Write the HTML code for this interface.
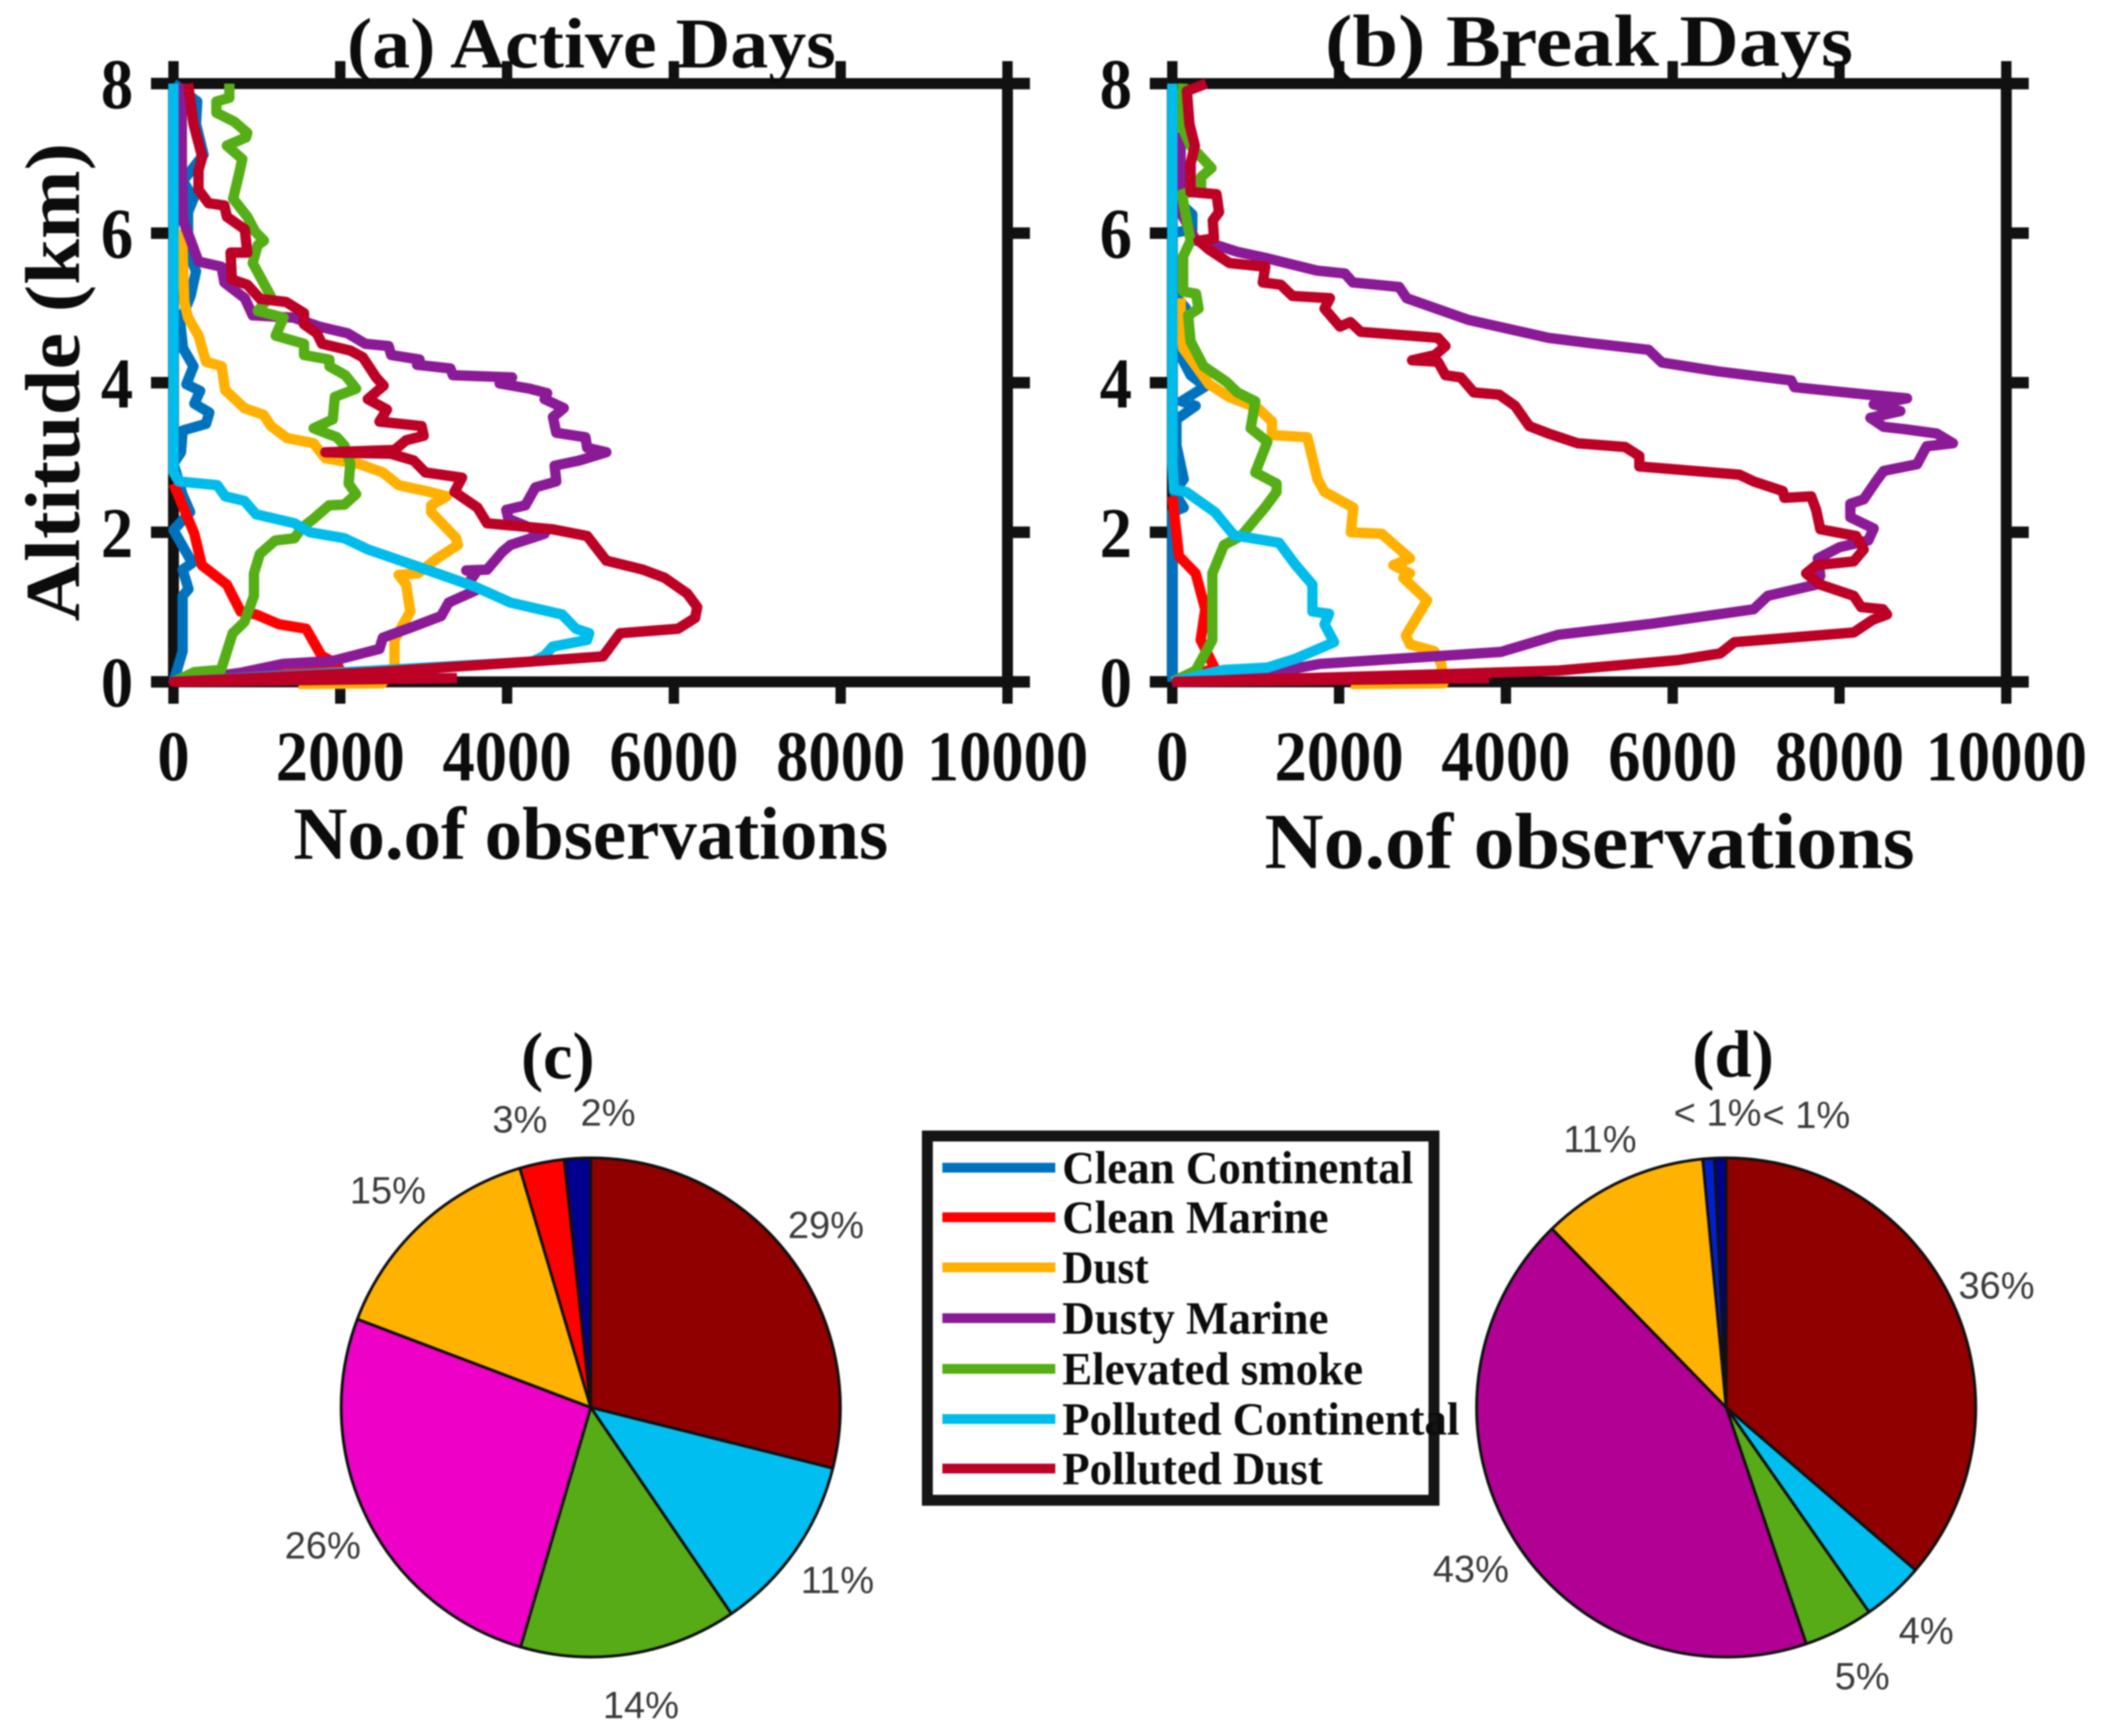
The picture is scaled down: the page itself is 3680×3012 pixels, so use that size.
<!DOCTYPE html>
<html lang="en">
<head>
<meta charset="utf-8">
<title>Aerosol subtype observations on active and break days</title>
<style>
html,body{margin:0;padding:0;background:#fff;width:3680px;height:3012px;overflow:hidden}
svg{display:block;filter:blur(1.4px)}
text{font-family:"Liberation Serif",serif;font-weight:bold;fill:#0c0c0c}
.pct{font-family:"Liberation Sans",sans-serif;font-weight:normal;font-size:66px;fill:#3a3a3a;text-anchor:middle}
</style>
</head>
<body>
<svg id="figure" xmlns="http://www.w3.org/2000/svg" width="3680" height="3012" viewBox="0 0 3680 3012">
  <rect width="3680" height="3012" fill="#fff"/>
  <g id="panel-a"></g>
  <g id="panel-b"></g>
  <text x="602" y="117" font-size="124" textLength="848" lengthAdjust="spacingAndGlyphs">(a) Active Days</text>
  <text x="2299" y="114" font-size="128" textLength="916" lengthAdjust="spacingAndGlyphs">(b) Break Days</text>
  <text x="509" y="1490" font-size="130" textLength="1032" lengthAdjust="spacingAndGlyphs">No.of observations</text>
  <text x="2194" y="1506" font-size="138" textLength="1128" lengthAdjust="spacingAndGlyphs">No.of observations</text>
  <text transform="translate(137 1078) rotate(-90)" font-size="135" textLength="830" lengthAdjust="spacingAndGlyphs">Altitude (km)</text>
  <g id="pie-c"></g>
  <g id="pie-d"></g>
  <text x="904" y="1871" font-size="115">(c)</text>
  <text x="2936" y="1868" font-size="116">(d)</text>
  <g id="legend">
    <rect x="1609" y="1971" width="879" height="632" fill="#fff" stroke="#151515" stroke-width="19"/>
  </g>
</svg>
<script>
const xTicks = [0, 2000, 4000, 6000, 8000, 10000];
const yTicks = [0, 2, 4, 6, 8];

const activeCleanContinentalAlt = [0,.41,1.15,1.24,1.5,1.59,2.03,2.27,2.5,2.92,3.07,3.36,3.45,3.6,3.72,3.89,3.98,4.22,4.46,4.81,5.16,5.49,5.75,6.28,6.46,6.7,7.05,7.46,7.76,7.9,8];
const activeCleanContinentalObs = [0,110,110,180,110,225,0,200,110,0,90,110,390,430,250,320,155,240,115,80,205,270,175,175,240,115,360,270,285,115,0];
const activeCleanMarineAlt = [0,.15,.24,.35,.71,.77,.90,.94,1.30,1.56,1.98,2.65];
const activeCleanMarineObs = [0,2000,1960,1775,1590,1265,990,805,640,340,250,0];
const activeDustAlt = [-.03,-.02,.18,.56,.94,1.30,1.43,1.45,1.65,1.83,1.92,2.27,2.36,2.48,2.54,2.63,2.80,2.91,2.99,3.19,3.26,3.42,3.57,3.66,3.83,3.90,4.22,4.28,4.63,4.87,5.08,6.05];
const activeDustObs = [1500,2500,2650,2650,2840,2790,2700,2930,3160,3410,3390,3090,3090,3275,3070,2700,2510,2235,1820,1680,1360,1170,1080,850,690,620,577,390,300,175,130,100];
const activeDustyMarineAlt = [0,.12,.24,.28,.44,.59,.74,.88,1.06,1.22,1.31,1.45,1.49,1.50,1.74,1.83,1.98,2.18,2.30,2.36,2.60,2.68,2.89,2.96,3.07,3.13,3.27,3.33,3.54,3.66,3.78,3.86,3.92,3.99,4.07,4.10,4.19,4.24,4.31,4.37,4.49,4.52,4.66,4.75,4.87,4.90,5.13,5.34,5.55,5.62,5.90,6.17,6.87,7.46,8];
const activeDustyMarineObs = [0,800,1310,1910,2470,2510,2880,3210,3300,3620,3530,3620,3510,3760,3945,4040,4450,4015,3990,4220,4340,4590,4570,4870,5190,4960,4940,4590,4550,4680,4450,4480,4270,3910,4060,3350,3320,2920,2950,2610,2580,2300,2090,1750,1440,950,855,610,577,300,207,115,100,100,100];
const activeSmokeAlt = [0,.13,.16,.65,.80,1.15,1.45,1.71,1.89,1.92,2.06,2.18,2.36,2.37,2.51,2.65,2.92,3.16,3.27,3.39,3.51,3.81,3.92,4.10,4.22,4.31,4.37,4.52,4.63,4.87,4.96,5.16,5.60,5.84,5.90,6.02,6.22,6.46,6.81,6.99,7.17,7.28,7.34,7.49,7.61,7.76,7.81,8];
const activeSmokeObs = [0,250,570,710,850,965,965,1035,1220,1450,1540,1680,1865,2050,2190,2100,2120,2050,1960,1680,1910,1935,2190,2060,1870,1870,1565,1565,1225,1320,1010,1165,950,1010,1085,980,885,715,790,825,640,870,885,730,515,515,670,670];
const activePollutedContinentalAlt = [0,.27,.35,.47,.56,.65,.71,.90,1.06,1.27,1.56,1.77,1.92,2.0,2.12,2.24,2.42,2.48,2.63,2.68,2.8,8];
const activePollutedContinentalObs = [0,4300,4450,4545,4960,4985,4825,4660,4040,3620,2880,2330,2050,1635,1450,990,850,620,525,65,0,0];
const activePollutedDustAlt = [.05,0,.13,.27,.34,.65,.71,.855,1.0,1.18,1.39,1.50,1.62,1.95,2.04,2.12,2.33,2.54,2.73,2.80,2.96,3.05,3.07,3.10,3.23,3.29,3.42,3.48,3.64,3.78,3.96,4.07,4.34,4.43,4.52,4.66,4.78,4.93,5.08,5.12,5.31,5.38,5.74,5.74,6.05,6.22,6.37,6.40,6.58,6.84,7.02,7.46,8];
const activePollutedDustObs = [3400,0,2420,4270,5150,5355,6050,6255,6280,6160,5890,5630,5190,4960,4545,3760,3645,3370,3460,3020,2880,2605,1820,2650,2790,3000,2975,2470,2560,2330,2520,2430,2270,2120,1780,1720,1565,1565,1350,1040,885,700,685,885,855,640,610,420,300,300,345,240,175];

const breakCleanContinentalAlt = [0,2.27,2.33,2.54,2.71,3.16,3.51,3.69,3.75,3.95,4.10,4.40,5.0,5.2,6.0,6.05,6.25,6.5,8];
const breakCleanContinentalObs = [0,0,137,20,137,50,50,280,110,395,220,80,160,0,0,240,240,0,0];
const breakCleanMarineAlt = [0,.18,.56,.97,1.45,1.68,2.48];
const breakCleanMarineObs = [0,510,340,395,280,80,0];
const breakDustAlt = [-.03,-.02,.24,.41,.5,.62,1.09,1.39,1.45,1.56,1.65,1.98,2.0,2.33,2.54,2.71,3.27,3.30,3.48,3.66,3.81,3.98,4.46,4.81,5.13];
const breakDustObs = [2140,3250,3225,3140,2850,2800,3055,2770,2850,2650,2850,2510,2140,2170,1825,1740,1620,1195,1195,1025,680,440,130,100,100];
const breakDustyMarineAlt = [0,.12,.24,.40,.63,.78,.97,1.15,1.30,1.42,1.65,1.80,1.89,2.05,2.2,2.38,2.44,2.70,2.82,2.91,3.15,3.19,3.32,3.38,3.41,3.53,3.62,3.71,3.79,3.85,3.94,4.03,4.15,4.27,4.44,4.53,4.60,4.84,5.13,5.28,5.34,5.46,5.50,5.66,5.75,5.84,5.90,6.28,7.35];
const breakDustyMarineObs = [0,1195,1770,3940,4630,5770,6970,7140,7720,7770,7740,8000,8345,8410,8130,8130,8290,8450,8530,8930,9045,9360,9165,8770,8530,8370,8730,8410,8810,8250,7460,7420,6550,5870,5710,5000,4510,3550,2810,2720,2165,2070,1730,1150,780,530,285,100,100];
const breakSmokeAlt = [0,.15,.56,1.09,1.45,1.83,1.95,2.33,2.54,2.65,2.80,3.21,3.39,3.75,3.87,4.01,4.22,4.55,4.90,4.99,5.19,5.22,5.69,5.90,6.52,6.58,6.75,6.87,7.02,7.17,7.46,8];
const breakSmokeObs = [0,280,480,480,480,620,825,1110,1250,1250,995,1140,940,995,780,650,375,220,190,315,285,130,130,220,115,345,345,470,345,220,100,130];
const breakPollutedContinentalAlt = [0,.16,.19,.31,.53,.77,.91,.94,1.30,1.56,1.86,1.96,2.27,2.54,2.57,2.92,8];
const breakPollutedContinentalObs = [0,620,1140,1480,1940,1825,1880,1680,1680,1480,1280,740,510,165,20,0,0];
const breakPollutedDustAlt = [.05,0,.10,.15,.29,.38,.53,.66,.83,.90,.97,1.0,1.15,1.30,1.45,1.56,1.61,1.77,1.95,2.04,2.30,2.48,2.46,2.55,2.68,2.77,2.88,3.02,3.14,3.19,3.32,3.42,3.69,3.84,3.87,4.07,4.10,4.28,4.30,4.37,4.49,4.60,4.68,4.81,4.75,4.99,5.13,5.16,5.31,5.34,5.55,5.60,5.78,5.90,5.93,6.17,6.28,6.52,6.55,6.93,7.17,7.46,7.9,8];
const breakPollutedDustObs = [3800,50,3200,4630,6060,6570,6740,8170,8400,8570,8520,8260,8170,7770,7600,7720,8170,8290,8200,7770,7720,7660,7340,7320,6970,6800,5600,5600,5430,4860,4510,4280,4110,3920,3615,3460,3275,3185,2875,3150,3275,3185,2260,2135,2010,1825,1890,1440,1300,1085,1115,685,440,315,500,485,560,530,220,220,270,205,175,407];

const seriesNames = ["Clean Continental","Clean Marine","Dust","Dusty Marine","Elevated smoke","Polluted Continental","Polluted Dust"];
const seriesColors = ["#0072BD","#FF0000","#FFB000","#8B1A96","#55AE15","#00BCEB","#BC0026"];

const pieCValues = [29,11.6,14.1,26.3,14.7,2.9,1.7];
const pieCColors = ["#900000","#00BFF0","#56AB16","#EE00C6","#FFB300","#FF0000","#00008F"];
const pieCLabels = ["29%","11%","14%","26%","15%","3%","2%"];
const pieDValues = [36.3,4,4.5,42.9,10.8,.75,.75];
const pieDColors = ["#900000","#00BFF0","#56AB16","#B20094","#FFB300","#0020D0","#00008F"];
const pieDLabels = ["36%","4%","5%","43%","11%","< 1%","< 1%"];

const SVG_NS = "http://www.w3.org/2000/svg";
function make(tag, parent, attrs) {
  const el = document.createElementNS(SVG_NS, tag);
  for (const k in attrs) el.setAttribute(k, attrs[k]);
  parent.appendChild(el);
  return el;
}
function xAxisFn(x0) { return v => x0 + v * 0.1447; }
function yAxisFn() { return a => 1183 - a * 129.75; }

function drawPanel(parentId, prefix, x0, series) {
  const g = document.getElementById(parentId);
  const X = xAxisFn(x0), Y = yAxisFn();
  const frame = make("rect", g, {x:X(0), y:Y(8), width:X(10000)-X(0), height:Y(0)-Y(8), fill:"none", stroke:"#111", "stroke-width":19});
  
  
  xTicks.forEach(t => {
    const b = make("line", g, {x1:X(t), x2:X(t), y1:Y(0), y2:Y(0)+38, stroke:"#111", "stroke-width":18});
    
    
    const tp = make("line", g, {x1:X(t), x2:X(t), y1:Y(8), y2:Y(8)-39, stroke:"#111", "stroke-width":18});
    
    
    const lb = make("text", g, {x:X(t), y:1354, "font-size":124, "text-anchor":"middle", textLength:String(t).length*56, lengthAdjust:"spacingAndGlyphs"});
    lb.textContent = t;
    
    
  });
  yTicks.forEach(t => {
    const l = make("line", g, {x1:X(0)-39, x2:X(0), y1:Y(t), y2:Y(t), stroke:"#111", "stroke-width":20});
    
    
    const r = make("line", g, {x1:X(10000), x2:X(10000)+39, y1:Y(t), y2:Y(t), stroke:"#111", "stroke-width":20});
    
    
    const lb = make("text", g, {x:X(0)-70, y:Y(t)+43, "font-size":124, "text-anchor":"end", textLength:56, lengthAdjust:"spacingAndGlyphs"});
    lb.textContent = t;
    
    
  });
  series.forEach((s, i) => {
    const n = Math.min(s[0].length, s[1].length);
    const pts = [];
    for (let k = 0; k < n; k++) pts.push(X(s[1][k]).toFixed(1) + "," + Y(s[0][k]).toFixed(1));
    const line = make("polyline", g, {points:pts.join(" "), fill:"none", stroke:seriesColors[i], "stroke-width":18, "stroke-linejoin":"round", "stroke-linecap":"butt"});
    
    
  });
}

drawPanel("panel-a", "active", 301, [
  [activeCleanContinentalAlt, activeCleanContinentalObs],
  [activeCleanMarineAlt, activeCleanMarineObs],
  [activeDustAlt, activeDustObs],
  [activeDustyMarineAlt, activeDustyMarineObs],
  [activeSmokeAlt, activeSmokeObs],
  [activePollutedContinentalAlt, activePollutedContinentalObs],
  [activePollutedDustAlt, activePollutedDustObs]
]);
drawPanel("panel-b", "break", 2034, [
  [breakCleanContinentalAlt, breakCleanContinentalObs],
  [breakCleanMarineAlt, breakCleanMarineObs],
  [breakDustAlt, breakDustObs],
  [breakDustyMarineAlt, breakDustyMarineObs],
  [breakSmokeAlt, breakSmokeObs],
  [breakPollutedContinentalAlt, breakPollutedContinentalObs],
  [breakPollutedDustAlt, breakPollutedDustObs]
]);

function drawPie(parentId, prefix, cx, cy, r, values, colors, labels, labelSpots) {
  const g = document.getElementById(parentId);
  const total = values.reduce((a, b) => a + b, 0);
  let acc = 0;
  values.forEach((v, i) => {
    const a0 = acc / total * 2 * Math.PI;
    acc += v;
    const a1 = acc / total * 2 * Math.PI;
    const large = a1 - a0 > Math.PI ? 1 : 0;
    const d = `M${cx} ${cy}L${(cx + r*Math.sin(a0)).toFixed(1)} ${(cy - r*Math.cos(a0)).toFixed(1)}A${r} ${r} 0 ${large} 1 ${(cx + r*Math.sin(a1)).toFixed(1)} ${(cy - r*Math.cos(a1)).toFixed(1)}Z`;
    const s = make("path", g, {d:d, fill:colors[i], stroke:"#111", "stroke-width":5, "stroke-linejoin":"round"});
    
    
    const t = make("text", g, {x:labelSpots[i][0], y:labelSpots[i][1], class:"pct"});
    t.textContent = labels[i];
    
    
  });
}
drawPie("pie-c", "pie-c", 1025, 2442, 433, pieCValues, pieCColors, pieCLabels,
  [[1433,2148],[1453,2764],[1112,2981],[560,2704],[673,2088],[902,1965],[1055,1953]]);
drawPie("pie-d", "pie-d", 2995, 2442, 433, pieDValues, pieDColors, pieDLabels,
  [[3464,2253],[3342,2852],[3231,2931],[2552,2745],[2776,1999],[2980,1953],[3134,1957]]);

const legendGroup = document.getElementById("legend");
const legendRowY = [2026,2112,2199,2287,2375,2462,2548];
const legendTextWidth = [609,462,150,462,522,689,452];
seriesNames.forEach((name, i) => {
  const sw = make("line", legendGroup, {x1:1635, x2:1831, y1:legendRowY[i], y2:legendRowY[i], stroke:seriesColors[i], "stroke-width":17});
  
  
  const tx = make("text", legendGroup, {x:1843, y:legendRowY[i]+27, "font-size":80, textLength:legendTextWidth[i], lengthAdjust:"spacingAndGlyphs"});
  tx.textContent = name;
  
  
});
</script>
</body>
</html>
